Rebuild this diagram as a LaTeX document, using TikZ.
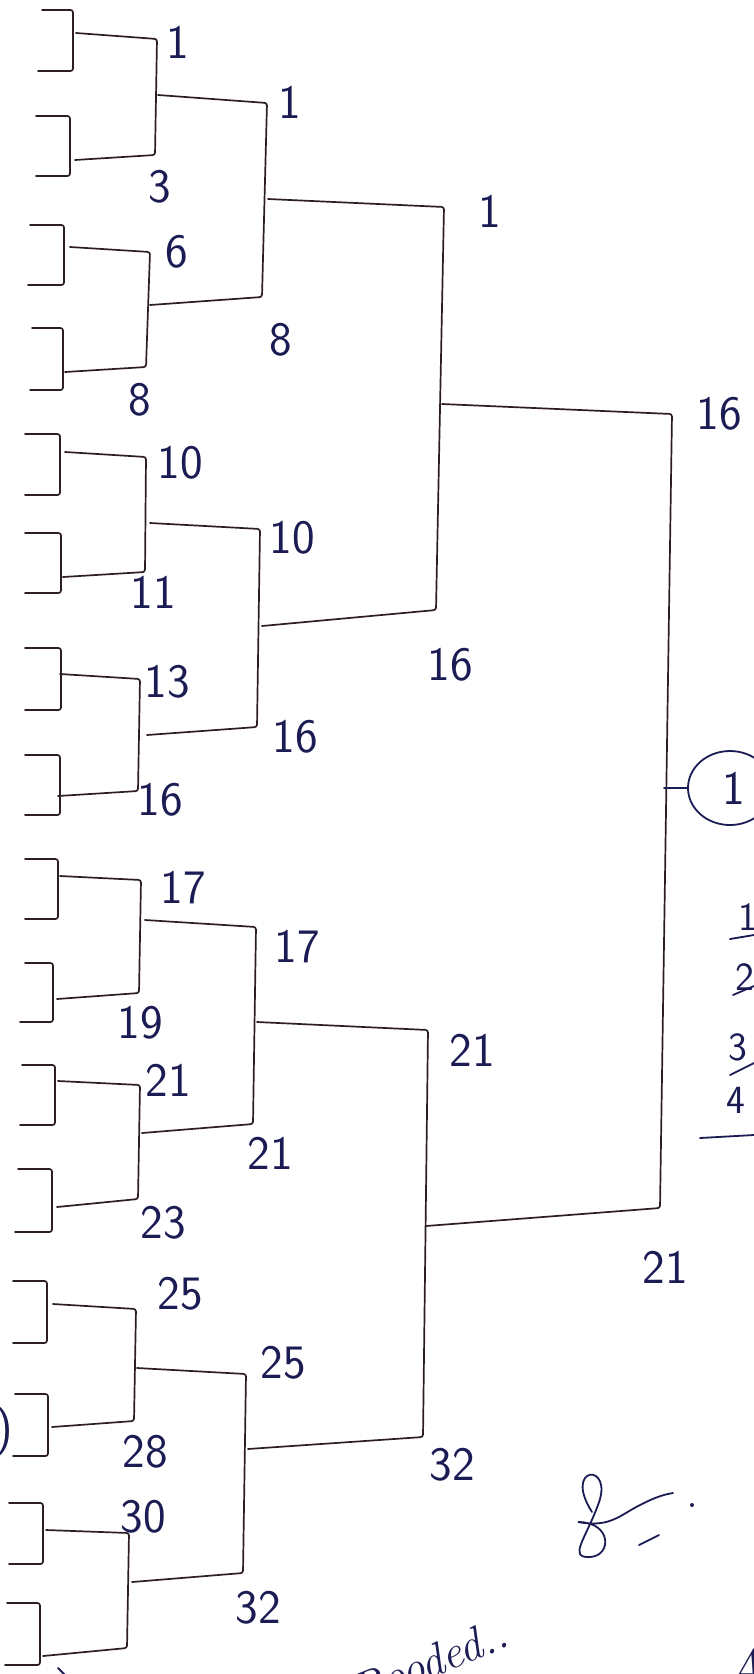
\documentclass[tikz,border=0pt]{standalone}
\usepackage{fontspec}
\usetikzlibrary{shapes.geometric}
\definecolor{linec}{RGB}{45,30,35}
\definecolor{inkc}{RGB}{28,28,85}
\tikzset{
  br/.style={draw=linec, line width=1.7pt, rounded corners=2.5pt, line cap=round},
  lb/.style={text=inkc, font=\sffamily\fontsize{48}{48}\selectfont, inner sep=0pt},
  lbs/.style={text=inkc, font=\sffamily\fontsize{40}{40}\selectfont, inner sep=0pt},
  ink/.style={draw=inkc, line width=1.8pt, line cap=round},
}
\begin{document}
\begin{tikzpicture}[x=1pt,y=-1pt]
\useasboundingbox (0,0) rectangle (754,1674);
\fill[white] (0,0) rectangle (754,1674);
% ---- round 1 brackets
\draw[br] (42,10)--(73,10)--(73,71)--(38,71);
\draw[br] (36,116)--(70,116)--(70,176)--(36,176);
\draw[br] (30,225)--(64,225)--(64,285)--(28,285);
\draw[br] (32,328)--(63,328)--(63,390)--(30,390);
\draw[br] (25,434)--(60,434)--(60,495)--(25,495);
\draw[br] (25,533)--(61,533)--(61,593)--(25,593);
\draw[br] (25,648)--(61,648)--(61,710)--(25,710);
\draw[br] (25,755)--(60,755)--(60,815)--(25,815);
\draw[br] (25,859)--(58,859)--(58,919)--(25,919);
\draw[br] (25,963)--(53,963)--(53,1022)--(20,1022);
\draw[br] (22,1065)--(55,1065)--(55,1125)--(20,1125);
\draw[br] (18,1169)--(52,1169)--(52,1232)--(15,1232);
\draw[br] (13,1281)--(47,1281)--(47,1343)--(13,1343);
\draw[br] (15,1394)--(48,1394)--(48,1456)--(13,1456);
\draw[br] (9,1503)--(43,1503)--(43,1564)--(9,1564);
\draw[br] (7,1603)--(40,1603)--(40,1665)--(5,1665);
% ---- round 2
\draw[br] (76,33)--(157,39)--(155,155)--(75,160);
\draw[br] (70,247)--(150,252)--(146,367)--(65,372);
\draw[br] (65,452)--(146,457)--(145,572)--(63,577);
\draw[br] (60,674)--(140,679)--(138,791)--(58,796);
\draw[br] (60,876)--(141,880)--(139,993)--(57,999);
\draw[br] (58,1081)--(140,1085)--(138,1199)--(57,1207);
\draw[br] (53,1304)--(136,1309)--(134,1421)--(52,1427);
\draw[br] (46,1530)--(129,1533)--(127,1648)--(43,1656);
% ---- round 3
\draw[br] (158,95)--(267,103)--(262,297)--(150,305);
\draw[br] (150,523)--(260,529)--(257,727)--(147,735);
\draw[br] (145,920)--(256,927)--(253,1124)--(142,1133);
\draw[br] (137,1368)--(246,1374)--(243,1573)--(132,1582);
% ---- round 4
\draw[br] (268,199)--(444,207)--(436,610)--(262,626);
\draw[br] (257,1022)--(428,1030)--(423,1437)--(248,1449);
% ---- final
\draw[br] (442,404)--(672,414)--(660,1208)--(426,1226);
\coordinate (tick) at (664,788);
\node[draw=inkc, line width=1.8pt, ellipse, minimum width=84pt, minimum height=74pt, inner sep=0pt] (champ) at (730,788) {};
\draw[ink] (tick) -- (champ.west);
\node[lb] (c1) at (734,788) {1};
% ---- labels
\node[lb] (a1) at (178,42) {1};
\node[lb] (a2) at (160,187) {3};
\node[lb] (a3) at (177,252) {6};
\node[lb] (a4) at (140,400) {8};
\node[lb] (b1) at (290,102) {1};
\node[lb] (b2) at (281,340) {8};
\node[lb] (c1a) at (490,211) {1};
\node[lb] (c2a) at (450,665) {16};
\node[lb] (a5) at (180,463) {10};
\node[lb] (a6) at (153,592) {11};
\node[lb] (a7) at (167,682) {13};
\node[lb] (a8) at (160,800) {16};
\node[lb] (b3) at (292,538) {10};
\node[lb] (b4) at (295,737) {16};
\node[lb] (f1) at (719,414) {16};
\node[lb] (f2) at (665,1267) {21};
\node[lb] (a9) at (183,888) {17};
\node[lb] (a10) at (140,1023) {19};
\node[lb] (a11) at (168,1080) {21};
\node[lb] (a12) at (163,1223) {23};
\node[lb] (b5) at (297,947) {17};
\node[lb] (b6) at (270,1153) {21};
\node[lb] (c3) at (472,1050) {21};
\node[lb] (c4) at (452,1465) {32};
\node[lb] (a13) at (180,1294) {25};
\node[lb] (a14) at (145,1452) {28};
\node[lb] (b7) at (283,1363) {25};
\node[lb] (b8) at (258,1608) {32};
\node[lb] (a15) at (143,1517) {30};
\node[lb] (a16) at (165,1692) {32};
\node[lb] (lp) at (4,1432) {)};
% ---- legend on the right
\node[lbs] (r1) at (748,917) {1};
\node[lbs] (r2) at (745,977) {2};
\node[lbs] (r3) at (738,1047) {3};
\node[lbs] (r4) at (736,1100) {4};
\draw[ink] (730,939) -- (754,935);
\draw[ink] (733,995) -- (754,986);
\draw[ink] (730,1075) -- (754,1063);
\draw[ink] (700,1138) -- (754,1135);
% ---- signature and notes
\draw[ink] (592,1512) .. controls (562,1465) and (615,1462) .. (598,1505)
  .. controls (585,1540) and (568,1558) .. (590,1557)
  .. controls (612,1556) and (612,1522) .. (578,1522)
  .. controls (610,1528) and (620,1515) .. (640,1505)
  .. controls (650,1500) and (660,1495) .. (673,1493);
\draw[ink] (639,1545) -- (659,1535);
\fill[inkc] (692,1505) circle (2);
\node[text=inkc, font=\itshape\fontsize{46}{46}\selectfont, rotate=22, inner sep=0pt] (note) at (430,1662) {Rooded..};
\node[text=inkc, font=\itshape\fontsize{56}{56}\selectfont, inner sep=0pt] (aa) at (745,1668) {A};
\draw[ink] (58,1668) -- (66,1676);
\end{tikzpicture}
\end{document}
